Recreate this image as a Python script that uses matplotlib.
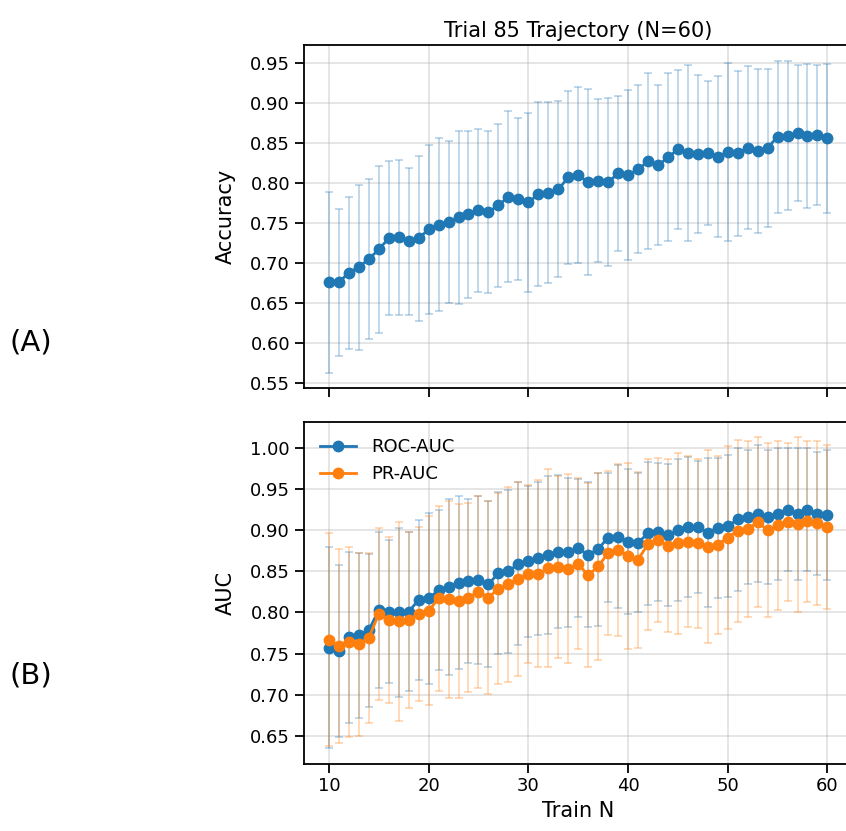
import numpy as np
import matplotlib
matplotlib.use("Agg")
import matplotlib.pyplot as plt

### Data ###
train_n = list(range(10, 61))

acc_mean = [0.676, 0.676, 0.688, 0.695, 0.705, 0.717, 0.731, 0.732, 0.727, 0.731,
            0.742, 0.748, 0.751, 0.757, 0.761, 0.766, 0.764, 0.772, 0.783, 0.780,
            0.776, 0.786, 0.788, 0.792, 0.807, 0.810, 0.801, 0.803, 0.801, 0.812,
            0.810, 0.817, 0.827, 0.822, 0.832, 0.842, 0.837, 0.836, 0.838, 0.833,
            0.839, 0.837, 0.844, 0.840, 0.844, 0.858, 0.859, 0.862, 0.859, 0.860,
            0.856]
acc_err = [0.113, 0.092, 0.095, 0.103, 0.100, 0.104, 0.096, 0.097, 0.092, 0.103,
           0.105, 0.108, 0.101, 0.108, 0.104, 0.102, 0.101, 0.102, 0.107, 0.101,
           0.112, 0.115, 0.113, 0.110, 0.108, 0.110, 0.116, 0.102, 0.105, 0.097,
           0.106, 0.105, 0.110, 0.100, 0.105, 0.099, 0.110, 0.099, 0.090, 0.101,
           0.111, 0.103, 0.102, 0.102, 0.099, 0.095, 0.093, 0.085, 0.090, 0.087,
           0.093]

roc_mean = [0.757, 0.753, 0.770, 0.772, 0.778, 0.803, 0.801, 0.800, 0.801, 0.815,
            0.817, 0.827, 0.831, 0.836, 0.838, 0.839, 0.834, 0.848, 0.850, 0.859,
            0.862, 0.866, 0.870, 0.874, 0.873, 0.878, 0.870, 0.877, 0.891, 0.892,
            0.886, 0.885, 0.896, 0.898, 0.894, 0.900, 0.904, 0.904, 0.897, 0.903,
            0.905, 0.913, 0.916, 0.920, 0.916, 0.920, 0.925, 0.920, 0.925, 0.920,
            0.918]
roc_err = [0.122, 0.105, 0.104, 0.100, 0.093, 0.095, 0.087, 0.103, 0.097, 0.097,
           0.104, 0.097, 0.107, 0.105, 0.100, 0.102, 0.101, 0.098, 0.099, 0.099,
           0.092, 0.093, 0.096, 0.093, 0.091, 0.084, 0.088, 0.093, 0.078, 0.087,
           0.088, 0.084, 0.087, 0.084, 0.086, 0.086, 0.085, 0.080, 0.091, 0.085,
           0.086, 0.087, 0.082, 0.083, 0.082, 0.080, 0.075, 0.080, 0.075, 0.075,
           0.079]

pr_mean = [0.767, 0.759, 0.764, 0.761, 0.769, 0.798, 0.791, 0.789, 0.791, 0.798,
           0.802, 0.817, 0.816, 0.814, 0.818, 0.825, 0.818, 0.829, 0.834, 0.841,
           0.847, 0.847, 0.854, 0.855, 0.853, 0.859, 0.845, 0.856, 0.872, 0.876,
           0.869, 0.864, 0.883, 0.888, 0.881, 0.884, 0.886, 0.884, 0.880, 0.882,
           0.891, 0.899, 0.901, 0.910, 0.900, 0.906, 0.910, 0.907, 0.911, 0.909,
           0.904]
pr_err = [0.130, 0.118, 0.116, 0.111, 0.103, 0.105, 0.101, 0.121, 0.107, 0.106,
          0.115, 0.112, 0.120, 0.118, 0.115, 0.117, 0.117, 0.116, 0.119, 0.118,
          0.108, 0.114, 0.120, 0.111, 0.115, 0.104, 0.112, 0.114, 0.100, 0.105,
          0.113, 0.107, 0.104, 0.100, 0.105, 0.110, 0.104, 0.103, 0.117, 0.108,
          0.111, 0.111, 0.107, 0.103, 0.106, 0.103, 0.096, 0.106, 0.098, 0.100,
          0.100]

### Style ###
plt.rcParams["font.family"] = ["DejaVu Sans"]
plt.rcParams["axes.linewidth"] = 1.3
plt.rcParams["xtick.major.width"] = 1.3
plt.rcParams["ytick.major.width"] = 1.3
plt.rcParams["xtick.major.size"] = 6.5
plt.rcParams["ytick.major.size"] = 6.5
plt.rcParams["xtick.labelsize"] = 13
plt.rcParams["ytick.labelsize"] = 13
plt.rcParams["axes.labelsize"] = 15

fig = plt.figure(figsize=(8.46, 8.31), dpi=100)
# axes run a little past the right edge, like the cropped reference
ax1 = fig.add_axes([0.3593, 0.5327, 0.6482, 0.4131])
ax2 = fig.add_axes([0.3593, 0.0811, 0.6482, 0.4114], sharex=ax1)

err_kw = dict(fmt="none", alpha=0.3, capsize=3, elinewidth=1.3, capthick=1.3)
line_kw = dict(marker="o", markersize=7.5, linewidth=2)

### (A) accuracy ###
ax1.errorbar(train_n, acc_mean, yerr=acc_err, ecolor="C0", **err_kw)
ax1.plot(train_n, acc_mean, color="C0", **line_kw)
ax1.set_ylabel("Accuracy", labelpad=10)
ax1.set_title("Trial 85 Trajectory (N=60)", fontsize=15)
ax1.tick_params(labelbottom=False)

### (B) AUC ###
ax2.errorbar(train_n, roc_mean, yerr=roc_err, ecolor="C0", **err_kw)
ax2.errorbar(train_n, pr_mean, yerr=pr_err, ecolor="C1", **err_kw)
ax2.plot(train_n, roc_mean, color="C0", label="ROC-AUC", **line_kw)
ax2.plot(train_n, pr_mean, color="C1", label="PR-AUC", **line_kw)
ax2.set_ylabel("AUC", labelpad=10)
ax2.set_xlabel("Train N")
ax2.legend(loc="upper left", frameon=False, fontsize=13)

for ax in (ax1, ax2):
    ax.grid(True, color="#b0b0b0", alpha=0.35, linewidth=1.3)
    ax.set_axisbelow(True)
    ax.set_xticks([10, 20, 30, 40, 50, 60])

fig.text(0.037, 0.5884, "(A)", fontsize=21, ha="center", va="center")
fig.text(0.037, 0.1877, "(B)", fontsize=21, ha="center", va="center")

fig.savefig("out.png", dpi=100)
